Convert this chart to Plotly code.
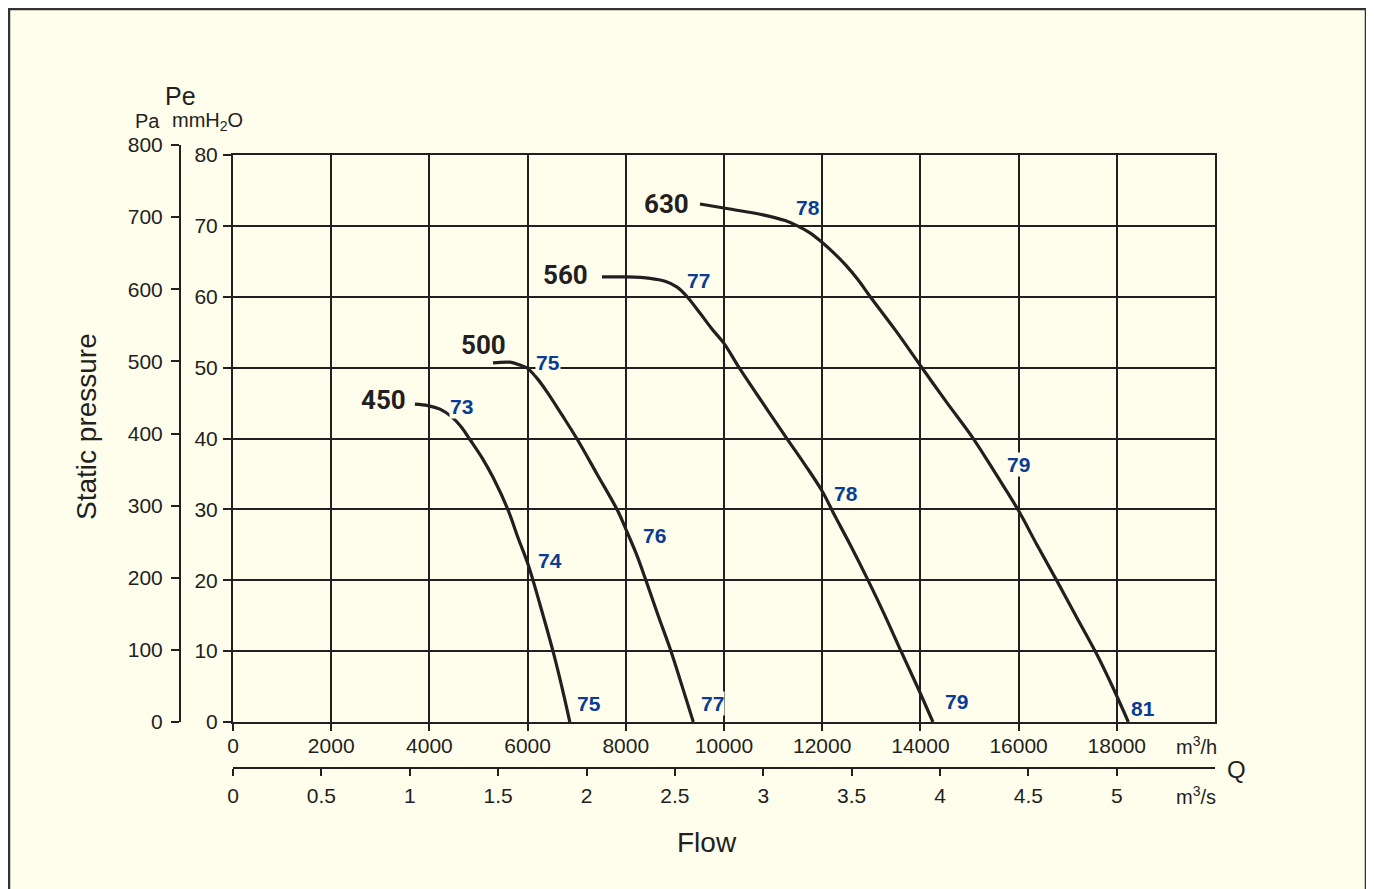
import plotly.graph_objects as go

# ---------------- data ----------------
# flow in m3/h, static pressure in Pa
flow_450 = [3705, 3970, 4215, 4460, 4665, 4825, 5070, 5300, 5605, 5805, 6015, 6255, 6525, 6700, 6860]
pa_450 = [440, 438, 433, 422, 407, 391, 366, 338, 293, 255, 217, 162, 96, 48, 0]

flow_500 = [5295, 5640, 5845, 5990, 6190, 6395, 6700, 7005, 7415, 7830, 8025, 8230, 8410, 8655,
            8920, 9145, 9375]
pa_500 = [497, 498, 494, 490, 476, 457, 425, 392, 343, 293, 263, 230, 196, 148, 98, 50, 0]

flow_560 = [7515, 8025, 8495, 8800, 9045, 9245, 9510, 9755, 10000, 10285, 10775, 11285, 11650,
            11995, 12260, 12565, 12935, 13280, 13605, 13950, 14255]
pa_560 = [616, 616, 614, 610, 602, 589, 566, 544, 524, 493, 443, 392, 356, 320, 285, 246, 196,
          147, 98, 47, 0]

flow_630 = [9510, 10120, 10795, 11245, 11485, 11750, 11995, 12240, 12485, 12730, 12975, 13505,
            14025, 14540, 15080, 15540, 15995, 16375, 16775, 17190, 17590, 17925, 18235]
pa_630 = [717, 710, 702, 694, 687, 677, 664, 649, 632, 612, 589, 541, 491, 442, 392, 343, 293,
          245, 196, 144, 94, 47, 0]

curve_names = ["450", "500", "560", "630"]
# model label anchor (flow m3/h, mmH2O)
name_flow = [3055, 5092, 6762, 8839]
name_mm = [45.6, 53.3, 63.2, 73.2]

# sound level labels: text, flow (m3/h), pressure (mmH2O)
db_text = ["73", "74", "75", "75", "76", "77", "77", "78", "79", "78", "79", "81"]
db_flow = [4644, 6456, 7251, 6416, 8575, 9756, 9471, 12485, 14725, 11711, 16008, 18534]
db_mm = [44.6, 22.9, 2.7, 50.8, 26.5, 2.7, 62.5, 32.4, 3.1, 72.8, 36.5, 2.1]

mh_ticks = [0, 2000, 4000, 6000, 8000, 10000, 12000, 14000, 16000, 18000]
ms_ticks = [0, 0.5, 1, 1.5, 2, 2.5, 3, 3.5, 4, 4.5, 5]
ms_labels = ["0", "0.5", "1", "1.5", "2", "2.5", "3", "3.5", "4", "4.5", "5"]
pa_ticks = [0, 100, 200, 300, 400, 500, 600, 700, 800]
mm_ticks = [0, 10, 20, 30, 40, 50, 60, 70, 80]

PA_PER_MM = 9.81
FLOW_MAX = 20000
MM_MAX = 80

# ---------------- layout geometry (page pixels; page body has an 8px margin) ----------------
OFF = 8
W, H = 1374 - OFF, 889 - OFF
ML = 180 - OFF
MR = W - (1215 - OFF)
MT = 145 - OFF
MB = H - (805 - OFF)
PW, PH = W - ML - MR, H - MT - MB


def px(xp):
    return (xp - OFF - ML) / PW


def py(yp):
    return (H - MB - (yp - OFF)) / PH


CREAM = "#FFFEEC"
INK = "#231f20"
BLUE = "#0a3c96"
FONT = "Liberation Sans, Arial, Helvetica, sans-serif"
BOLDFONT = "Roboto, Liberation Sans, Arial, sans-serif"

fig = go.Figure()

for fl, pa in [(flow_450, pa_450), (flow_500, pa_500), (flow_560, pa_560), (flow_630, pa_630)]:
    fig.add_trace(go.Scatter(
        x=fl, y=[p / PA_PER_MM for p in pa], mode="lines",
        line=dict(color=INK, width=3.2, shape="spline", smoothing=1.0),
        showlegend=False, hoverinfo="skip", xaxis="x", yaxis="y"))

# dummy traces so the extra axes render
fig.add_trace(go.Scatter(x=[None], y=[None], xaxis="x3", yaxis="y2", showlegend=False, hoverinfo="skip"))
fig.add_trace(go.Scatter(x=[None], y=[None], xaxis="x2", yaxis="y3", showlegend=False, hoverinfo="skip"))

x0 = px(233)
ybot = py(722)
ytop = py(155)

tickfont = dict(family=FONT, size=21, color=INK)

fig.update_layout(
    width=W, height=H, autosize=False,
    margin=dict(l=ML, r=MR, t=MT, b=MB, autoexpand=False),
    paper_bgcolor="white", plot_bgcolor=CREAM,
    showlegend=False,
    xaxis=dict(domain=[x0, 1], range=[0, FLOW_MAX], anchor="y",
               tickmode="array", tickvals=mh_ticks, ticktext=[str(t) for t in mh_ticks],
               ticks="outside", ticklen=7, tickwidth=2, tickcolor=INK,
               showline=True, linewidth=2, linecolor=INK, mirror=True,
               showgrid=True, gridcolor=INK, gridwidth=2, zeroline=False,
               tickfont=tickfont, ticklabelstandoff=-3, fixedrange=True),
    yaxis=dict(domain=[ybot, ytop], range=[0, MM_MAX], anchor="x",
               tickmode="array", tickvals=mm_ticks, ticktext=[str(t) for t in mm_ticks],
               ticks="outside", ticklen=8, tickwidth=2, tickcolor=INK,
               showline=True, linewidth=2, linecolor=INK, mirror=True,
               showgrid=True, gridcolor=INK, gridwidth=2, zeroline=False,
               tickfont=tickfont, ticklabelstandoff=1, fixedrange=True),
    yaxis2=dict(domain=[ybot, 1], range=[0, 800], anchor="free", position=0,
                tickmode="array", tickvals=pa_ticks, ticktext=[str(t) for t in pa_ticks],
                ticks="outside", ticklen=8, tickwidth=2, tickcolor=INK,
                showline=True, linewidth=2, linecolor=INK, showgrid=False, zeroline=False,
                tickfont=tickfont, ticklabelstandoff=4, fixedrange=True),
    xaxis3=dict(domain=[0, 0.01], visible=False, anchor="y2", range=[0, 1]),
    xaxis2=dict(domain=[x0, 1], range=[0, FLOW_MAX / 3600], anchor="free", position=py(768),
                tickmode="array", tickvals=ms_ticks, ticktext=ms_labels,
                ticks="outside", ticklen=7, tickwidth=2, tickcolor=INK,
                showline=True, linewidth=2, linecolor=INK, showgrid=False, zeroline=False,
                tickfont=tickfont, ticklabelstandoff=2, fixedrange=True),
    yaxis3=dict(domain=[0, 0.02], visible=False, anchor="x2", range=[0, 1]),
)

# outer frame
fig.add_shape(type="rect", xref="paper", yref="paper",
              x0=px(9), x1=px(1366), y0=py(900), y1=py(9),
              line=dict(color="#333333", width=2.5), fillcolor=CREAM, layer="below")

ann = []
# model labels
for t, fx, fy in zip(curve_names, name_flow, name_mm):
    ann.append(dict(x=fx, y=fy, xref="x", yref="y", text=t, showarrow=False,
                    font=dict(family=BOLDFONT, size=26, color=INK, weight="bold"),
                    xanchor="center", yanchor="middle", yshift=-1))
# sound level labels
for t, fx, fy in zip(db_text, db_flow, db_mm):
    ann.append(dict(x=fx, y=fy, xref="x", yref="y", text=t, showarrow=False,
                    font=dict(family=FONT, size=21, color=BLUE, weight="bold"),
                    bgcolor=CREAM, borderpad=0,
                    xanchor="center", yanchor="middle", yshift=-1))


def txt(x, y, text, size, xanchor="center", angle=0):
    ann.append(dict(x=px(x), y=py(y), xref="paper", yref="paper", text=text,
                    showarrow=False, textangle=angle,
                    font=dict(family=FONT, size=size, color=INK),
                    xanchor=xanchor, yanchor="middle"))


txt(180, 96, "Pe", 25)
txt(147, 121, "Pa", 20)
txt(170, 121, "mmH<sub>2</sub>O", 20, xanchor="left")
txt(86, 427, "Static pressure", 28, angle=-90)
txt(707, 842, "Flow", 28)
txt(1196, 745, "m<sup>3</sup>/h", 20)
txt(1196, 795, "m<sup>3</sup>/s", 20)
txt(1236, 769, "Q", 24)

fig.update_layout(annotations=ann)

fig.write_html("out.html")
